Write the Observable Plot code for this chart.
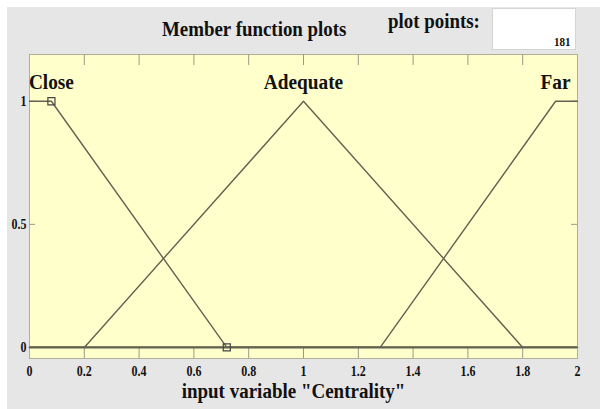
<!DOCTYPE html>
<html>
<head>
<meta charset="utf-8">
<script src="https://cdn.jsdelivr.net/npm/d3@7"></script>
<script src="https://cdn.jsdelivr.net/npm/@observablehq/plot@0.6"></script>
<style>
html,body{margin:0;padding:0;background:#fff;width:600px;height:409px;overflow:hidden;}
#bg{position:absolute;left:7px;top:7px;width:593px;height:402px;background:#e6e6e6;}
#chart{position:absolute;left:0;top:0;}
.hdr{position:absolute;font-family:"Liberation Serif","Times New Roman",serif;font-weight:bold;color:#111;white-space:nowrap;line-height:1;transform-origin:left center;}
#title{left:162px;top:19px;font-size:21px;transform:scaleX(0.9);}
#pp{left:388px;top:11px;font-size:21px;transform:scaleX(0.9);}
#box{position:absolute;left:492px;top:8px;width:84px;height:42px;background:#fff;border:1px solid #d4d4d4;box-sizing:border-box;}
#npts{position:absolute;right:5px;top:26px;font-family:"Liberation Serif",serif;font-weight:bold;font-size:13px;line-height:1;color:#111;transform:scaleX(0.85);transform-origin:right center;}
</style>
</head>
<body>
<div id="bg"></div>
<div id="chart"></div>
<div class="hdr" id="title">Member function plots</div>
<div class="hdr" id="pp">plot points:</div>
<div id="box"><div id="npts"></div></div>
<script>
// ---- data ----
const plotPoints = 181;
const mfNames = ["Close", "Adequate", "Far"];
const closeX = [0, 0.08, 0.72, 2];
const closeY = [1, 1, 0, 0];
const adequateX = [0, 0.2, 1.0, 1.8, 2];
const adequateY = [0, 0, 1, 0, 0];
const farX = [0, 1.28, 1.92, 2];
const farY = [0, 0, 1, 1];
const xTicks = [0, 0.2, 0.4, 0.6, 0.8, 1, 1.2, 1.4, 1.6, 1.8, 2];
const yTicks = [0, 0.5, 1];
const xLabel = 'input variable "Centrality"';

document.getElementById("npts").textContent = plotPoints;

const mfX = [closeX, adequateX, farX];
const mfY = [closeY, adequateY, farY];
const lineRows = mfNames.flatMap((name, k) => mfX[k].map((x, i) => ({name, x, y: mfY[k][i]})));
// label sits above the interior corner vertex where the function reaches 1
const labelRows = mfNames.map((name, k) => {
  const ys = mfY[k];
  let i = ys.findIndex((v, j) => v === 1 && j > 0 && j < ys.length - 1);
  return {name, x: mfX[k][i], y: ys[i]};
});
const markerRows = [1, 2].map(i => ({x: closeX[i], y: closeY[i]}));
const fmt = d => String(+(+d).toFixed(1));
const innerX = xTicks.filter(d => d > 0 && d < 2);

const lineColor = "#626250";
const tickColor = "#9a9a88";

const plot = Plot.plot({
  width: 600,
  height: 409,
  marginTop: 54,
  marginBottom: 51,
  marginLeft: 29,
  marginRight: 23,
  style: {background: "transparent", fontFamily: "'Liberation Serif','Times New Roman',serif", fontWeight: "bold", fontSize: "15px", color: "#111"},
  x: {domain: [0, 2]},
  y: {domain: [-0.045, 1.19]},
  marks: [
    Plot.frame({fill: "#ffffcc", stroke: "#b0b09a"}),
    Plot.axisX({ticks: xTicks, tickSize: 0, tickPadding: 7, tickFormat: fmt, label: null, fill: "#111"}),
    Plot.axisY({ticks: yTicks, tickSize: 0, tickPadding: 3, tickFormat: fmt, label: null, fill: "#111"}),
    Plot.tickX(innerX, {x: d => d, stroke: tickColor, insetTop: 293}),
    Plot.tickX(innerX, {x: d => d, stroke: tickColor, insetBottom: 293}),
    Plot.tickY(yTicks.slice(1), {y: d => d, stroke: tickColor, insetRight: 542}),
    Plot.tickY(yTicks.slice(1), {y: d => d, stroke: tickColor, insetLeft: 542}),
    Plot.ruleY([0], {stroke: lineColor, strokeWidth: 2.4}),
    Plot.line(lineRows, {x: "x", y: "y", z: "name", stroke: lineColor, strokeWidth: 1.4}),
    Plot.dot(markerRows, {x: "x", y: "y", symbol: "square", r: 4, stroke: "#444", strokeWidth: 1.2, fill: "none"}),
    Plot.text(labelRows, {x: "x", y: "y", text: "name", dy: -19, fontSize: 21, fill: "#111"}),
    Plot.text([xLabel], {text: d => d, frameAnchor: "bottom", lineAnchor: "middle", dy: 33, dx: -10, fontSize: 20, fill: "#111"})
  ]
});
document.getElementById("chart").appendChild(plot);

// tick labels: larger bold serif; all serif text horizontally condensed like the reference
plot.querySelectorAll("text").forEach(t => {
  const s = t.textContent;
  let k;
  if (/^[0-9.]+$/.test(s)) { t.style.fontSize = "15px"; t.style.fontWeight = "bold"; k = 0.8; }
  else if (s === xLabel) k = 0.95;
  else k = 0.92;
  const tr = t.getAttribute("transform") || "";
  t.setAttribute("transform", (tr + ` scale(${k},1)`).trim());
});
</script>
</body>
</html>
